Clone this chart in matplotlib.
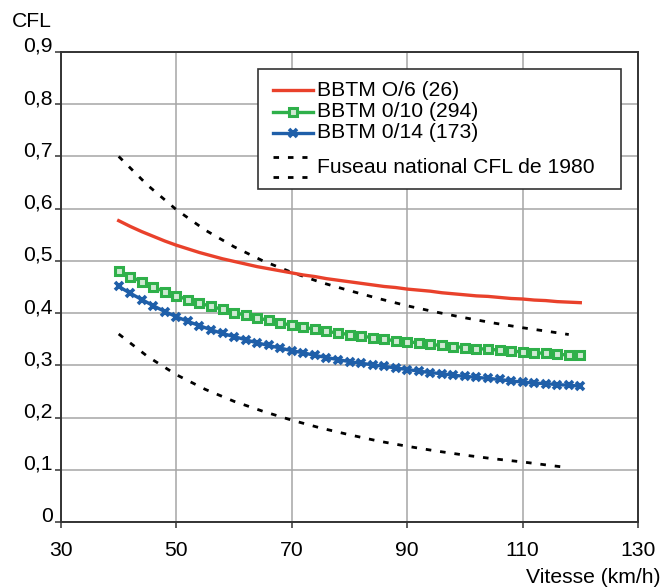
import numpy as np
import matplotlib
matplotlib.use("Agg")
import matplotlib.pyplot as plt
from matplotlib.patches import Rectangle
from matplotlib.lines import Line2D

plt.rcParams['font.family'] = ['Liberation Sans', 'DejaVu Sans']

# speeds (km/h), one marker every 2 km/h
vitesse = list(range(40, 121, 2))

cfl_06 = [0.577, 0.566, 0.556, 0.547, 0.538, 0.530, 0.523, 0.516, 0.510, 0.504,
          0.499, 0.494, 0.489, 0.485, 0.481, 0.477, 0.473, 0.470, 0.466, 0.463,
          0.460, 0.457, 0.454, 0.451, 0.449, 0.446, 0.444, 0.442, 0.439, 0.437,
          0.435, 0.433, 0.432, 0.430, 0.428, 0.427, 0.425, 0.424, 0.422, 0.421,
          0.420]
cfl_010 = [0.480, 0.470, 0.460, 0.450, 0.441, 0.433, 0.426, 0.419, 0.413, 0.407,
           0.401, 0.396, 0.391, 0.386, 0.381, 0.377, 0.373, 0.369, 0.365, 0.362,
           0.359, 0.356, 0.353, 0.350, 0.347, 0.345, 0.343, 0.340, 0.338, 0.336,
           0.334, 0.332, 0.331, 0.329, 0.327, 0.326, 0.324, 0.323, 0.321, 0.320,
           0.319]
cfl_014 = [0.451, 0.438, 0.426, 0.414, 0.403, 0.393, 0.384, 0.376, 0.368, 0.361,
           0.355, 0.349, 0.343, 0.338, 0.333, 0.328, 0.324, 0.319, 0.315, 0.311,
           0.307, 0.304, 0.301, 0.298, 0.295, 0.292, 0.289, 0.286, 0.284, 0.281,
           0.279, 0.277, 0.275, 0.273, 0.270, 0.268, 0.266, 0.265, 0.263, 0.262,
           0.260]

# fuseau national 1980 (upper / lower bounds)
v_fuseau = [40, 45, 50, 55, 60, 65, 70, 75, 80, 85, 90, 95, 100, 105, 110, 115, 118]
fuseau_haut = [0.700, 0.645, 0.598, 0.559, 0.527, 0.500, 0.478, 0.459, 0.443,
               0.428, 0.414, 0.402, 0.391, 0.381, 0.372, 0.364, 0.359]
fuseau_bas = [0.360, 0.317, 0.282, 0.254, 0.231, 0.212, 0.195, 0.180, 0.167,
              0.155, 0.145, 0.136, 0.128, 0.121, 0.115, 0.108, 0.104]

xticks = [30, 50, 70, 90, 110, 130]
yticks = [0, 0.1, 0.2, 0.3, 0.4, 0.5, 0.6, 0.7, 0.8, 0.9]
ylabels = ["0", "0,1", "0,2", "0,3", "0,4", "0,5", "0,6", "0,7", "0,8", "0,9"]

labels = ["BBTM O/6 (26)", "BBTM 0/10 (294)", "BBTM 0/14 (173)",
          "Fuseau national CFL de 1980"]

red = '#e9412b'
green = '#2fb04a'
blue = '#1f5fa9'
fs = 15.2

W, H = 661, 588
fig = plt.figure(figsize=(W / 100, H / 100), dpi=100)
ax_l, ax_r, ax_t, ax_b = 61, 638, 52, 522
ax = fig.add_axes([ax_l / W, 1 - ax_b / H, (ax_r - ax_l) / W, (ax_b - ax_t) / H])

dash = (2.0, 3.2)
dash_lw = 2.0
sq = dict(marker='s', ms=6.0, mfc='#cfe9d2', mec=green, mew=2.2)
cross = dict(marker='x', ms=6.0, mec=blue, mew=2.6)

ax.plot(v_fuseau, fuseau_haut, color='black', lw=dash_lw, dashes=dash, zorder=3)
ax.plot(v_fuseau, fuseau_bas, color='black', lw=dash_lw, dashes=dash, zorder=3)
ax.plot(vitesse, cfl_06, color=red, lw=2.4, zorder=4)
ax.plot(vitesse, cfl_010, color=green, lw=2.4, zorder=4, **sq)
ax.plot(vitesse, cfl_014, color=blue, lw=2.4, zorder=4, **cross)

ax.set_xlim(30, 130)
ax.set_ylim(0, 0.9)
ax.set_xticks(xticks)
ax.set_xticklabels([str(x) for x in xticks], fontsize=fs)
ax.set_yticks(yticks)
ax.set_yticklabels(ylabels, fontsize=fs)
for lab in ax.get_yticklabels():
    lab.set_verticalalignment('baseline')
ax.tick_params(axis='x', direction='out', length=4, width=1.1, color='#333333', pad=10)
ax.tick_params(axis='y', direction='out', length=4, width=1.1, color='#333333', pad=2)
ax.grid(True, color='#a6a6a6', lw=1.1, zorder=0)
ax.set_axisbelow(True)
for s in ax.spines.values():
    s.set_color('#333333')
    s.set_linewidth(1.4)
    s.set_zorder(5)


# legend drawn by hand (last entry has two dashed rows)
def px(x, y):
    return (x - ax_l) / (ax_r - ax_l), (ax_b - y) / (ax_b - ax_t)


x0, y0 = px(258, 189)
x1, y1 = px(621, 69)
ax.add_patch(Rectangle((x0, y0), x1 - x0, y1 - y0, transform=ax.transAxes,
                       facecolor='white', edgecolor='#333333', lw=1.2, zorder=6))
hx0, _ = px(273, 0)
hx1, _ = px(313, 0)
tx, _ = px(317, 0)
hm = (hx0 + hx1) / 2
rows = [90, 111.5, 132.5]
colors = [red, green, blue]
marks = [None, sq, cross]
for ry, c, mk, lab in zip(rows, colors, marks, labels[:3]):
    _, yy = px(0, ry)
    ax.add_line(Line2D([hx0, hx1], [yy, yy], transform=ax.transAxes, color=c,
                       lw=2.4, zorder=7))
    if mk:
        ax.add_line(Line2D([hm], [yy], transform=ax.transAxes, lw=0, zorder=8, **mk))
    ax.text(tx, yy, lab, transform=ax.transAxes, fontsize=fs, va='center', zorder=8)
for ry in (156.7, 176.7):
    _, yy = px(0, ry)
    ax.add_line(Line2D([hx0, hx1 - 0.01], [yy, yy], transform=ax.transAxes,
                       color='black', lw=dash_lw, dashes=dash, zorder=7))
_, yy = px(0, 167.3)
ax.text(tx, yy, labels[3], transform=ax.transAxes, fontsize=fs, va='center', zorder=8)

fig.text(12 / W, 1 - 27 / H, "CFL", fontsize=fs, va='baseline', ha='left')
fig.text(660 / W, 1 - 583 / H, "Vitesse (km/h)", fontsize=fs, va='baseline', ha='right')

fig.savefig("out.png", dpi=100)
